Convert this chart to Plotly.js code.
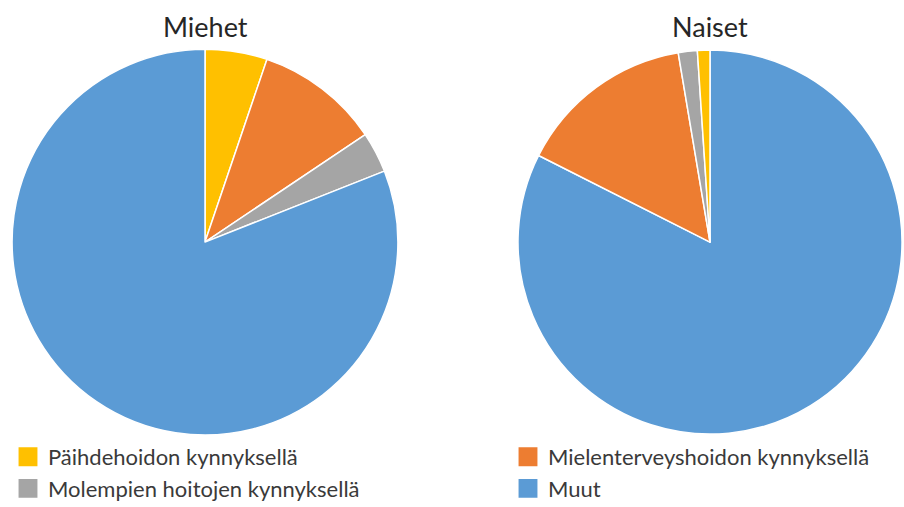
<!DOCTYPE html>
<html>
<head>
<meta charset="utf-8">
<script src="https://cdn.plot.ly/plotly-3.0.1.min.js"></script>
<style>
html,body{margin:0;padding:0;background:#fff;overflow:hidden;}
#chart{width:1000px;height:507px;}
g.legendpoints path.legendpie{transform:translate(20px,0) scale(1.8);}
</style>
</head>
<body>
<div id="chart"></div>
<script>
// Data
const categories = ["Päihdehoidon kynnyksellä", "Mielenterveyshoidon kynnyksellä", "Molempien hoitojen kynnyksellä", "Muut"];
const colors = ["#FFC000", "#ED7D31", "#A5A5A5", "#5B9BD5"];
const miehetValues = [5.2, 10.4, 3.4, 81.0];
const naisetLabels = ["Muut", "Mielenterveyshoidon kynnyksellä", "Molempien hoitojen kynnyksellä", "Päihdehoidon kynnyksellä"];
const naisetValues = [82.45, 14.9, 1.6, 1.05];
const groupTitles = ["Miehet", "Naiset"];

const colorOf = {};
categories.forEach((c, i) => colorOf[c] = colors[i]);

const FONT = "Lato, 'Open Sans', sans-serif";
const W = 1000; // paper width (the visible window shows the left 904 px)

const traces = [
  {
    type: "pie",
    labels: categories,
    values: miehetValues,
    sort: false,
    direction: "clockwise",
    rotation: 0,
    textinfo: "none",
    hoverinfo: "label+percent",
    marker: {colors: categories.map(c => colorOf[c]), line: {color: "#ffffff", width: 1.5}},
    domain: {x: [12 / W, 398 / W], y: [0.142, 0.903]}
  },
  {
    type: "pie",
    labels: naisetLabels,
    values: naisetValues,
    sort: false,
    direction: "clockwise",
    rotation: 0,
    textinfo: "none",
    hoverinfo: "label+percent",
    marker: {colors: naisetLabels.map(c => colorOf[c]), line: {color: "#ffffff", width: 1.5}},
    domain: {x: [518 / W, 902 / W], y: [0.142, 0.903]}
  }
];

const layout = {
  width: W,
  height: 507,
  margin: {l: 0, r: 0, t: 0, b: 0, autoexpand: false},
  paper_bgcolor: "#ffffff",
  font: {family: FONT, color: "#3a3a3a", size: 22},
  showlegend: true,
  legend: {
    orientation: "h",
    xref: "container",
    yref: "container",
    x: 8 / W,
    xanchor: "left",
    y: 1 - 436 / 507,
    yanchor: "top",
    entrywidth: 455,
    entrywidthmode: "pixels",
    traceorder: "normal",
    font: {family: FONT, size: 22, color: "#3a3a3a"},
    tracegroupgap: 0
  },
  annotations: [
    {text: groupTitles[0], x: 205 / W, y: 1 - 26 / 507, xref: "paper", yref: "paper", showarrow: false, xanchor: "center", yanchor: "middle", font: {family: FONT, size: 27, color: "#262626"}},
    {text: groupTitles[1], x: 710 / W, y: 1 - 26 / 507, xref: "paper", yref: "paper", showarrow: false, xanchor: "center", yanchor: "middle", font: {family: FONT, size: 27, color: "#262626"}}
  ]
};

Plotly.newPlot("chart", traces, layout, {displayModeBar: false, staticPlot: true});
</script>
</body>
</html>
